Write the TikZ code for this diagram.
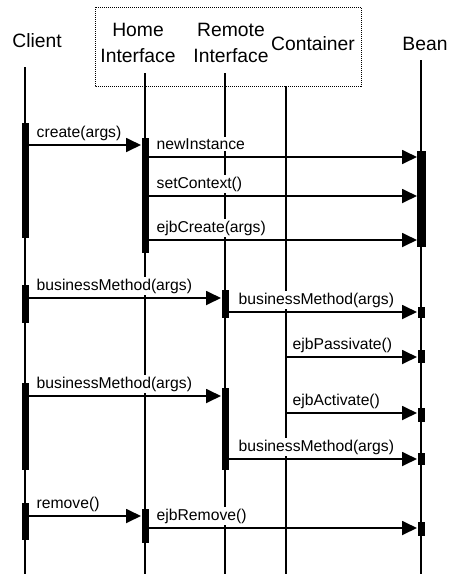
\documentclass[tikz,border=0pt]{standalone}
\usepackage{fontspec}
\setmainfont{Liberation Sans}
\usetikzlibrary{arrows.meta, positioning}

\begin{document}
\begin{tikzpicture}[x=1pt, y=-1pt, >={Triangle[length=15pt,width=14pt]},
    lifeline/.style={line width=2pt},
    msg/.style={->, line width=1.8pt},
    head/.style={font=\fontsize{19.3}{26}\selectfont, align=center, inner sep=0pt},
    lbl/.style={font=\fontsize{15.7}{18}\selectfont, fill=white, inner sep=1.5pt,
                anchor=base west, xshift=10pt, yshift=8pt}]
    \useasboundingbox (0,0) rectangle (448,574);

    % participants
    \node[head, anchor=base] (client) at (37,47) {Client};
    \node[head] (home) at (138,43) {Home\\Interface};
    \node[head] (remote) at (231,43) {Remote\\Interface};
    \node[head, anchor=base] (container) at (313,50) {Container};
    \node[head, anchor=base] (bean) at (425,50) {Bean};
    \draw[dash pattern=on 1pt off 1pt, line width=0.9pt] (95,7) rectangle (361,86);

    % lifelines
    \coordinate (client top) at (25,67);    \coordinate (client end) at (25,574);
    \coordinate (home top) at (145,73);     \coordinate (home end) at (145,574);
    \coordinate (remote top) at (225,73);   \coordinate (remote end) at (225,574);
    \coordinate (container top) at (286,86);\coordinate (container end) at (286,574);
    \coordinate (bean top) at (421,60);     \coordinate (bean end) at (421,574);
    \draw[lifeline] (client top) -- (client end);
    \draw[lifeline] (home top) -- (home end);
    \draw[lifeline] (remote top) -- (remote end);
    \draw[lifeline] (container top) -- (container end);
    \draw[lifeline] (bean top) -- (bean end);

    % message ends
    \coordinate (create from) at (25,145);   \coordinate (create to) at (141,145);
    \coordinate (newinst from) at (145,157); \coordinate (newinst to) at (417,157);
    \coordinate (setctx from) at (145,196);  \coordinate (setctx to) at (417,196);
    \coordinate (ejbcr from) at (145,240);   \coordinate (ejbcr to) at (417,240);
    \coordinate (bm1 from) at (25,298);      \coordinate (bm1 to) at (221,298);
    \coordinate (bm2 from) at (225,312);     \coordinate (bm2 to) at (417,312);
    \coordinate (pass from) at (286,357);    \coordinate (pass to) at (417,357);
    \coordinate (bm3 from) at (25,396);      \coordinate (bm3 to) at (221,396);
    \coordinate (act from) at (286,413);     \coordinate (act to) at (417,413);
    \coordinate (bm4 from) at (225,459);     \coordinate (bm4 to) at (417,459);
    \coordinate (rem from) at (25,516);      \coordinate (rem to) at (141,516);
    \coordinate (ejbrem from) at (145,528);  \coordinate (ejbrem to) at (417,528);

    % labels
    \node[lbl] (create) at (create from) {create(args)};
    \node[lbl] (newinst) at (newinst from) {newInstance};
    \node[lbl] (setctx) at (setctx from) {setContext()};
    \node[lbl] (ejbcr) at (ejbcr from) {ejbCreate(args)};
    \node[lbl] (bm1) at (bm1 from) {businessMethod(args)};
    \node[lbl, xshift=2pt] (bm2) at (bm2 from) {businessMethod(args)};
    \node[lbl, xshift=-5pt] (pass) at (pass from) {ejbPassivate()};
    \node[lbl] (bm3) at (bm3 from) {businessMethod(args)};
    \node[lbl, xshift=-5pt] (act) at (act from) {ejbActivate()};
    \node[lbl, xshift=2pt] (bm4) at (bm4 from) {businessMethod(args)};
    \node[lbl] (rem) at (rem from) {remove()};
    \node[lbl] (ejbrem) at (ejbrem from) {ejbRemove()};

    % messages
    \draw[msg] (create from) -- (create to);
    \draw[msg] (newinst from) -- (newinst to);
    \draw[msg] (setctx from) -- (setctx to);
    \draw[msg] (ejbcr from) -- (ejbcr to);
    \draw[msg] (bm1 from) -- (bm1 to);
    \draw[msg] (bm2 from) -- (bm2 to);
    \draw[msg] (pass from) -- (pass to);
    \draw[msg] (bm3 from) -- (bm3 to);
    \draw[msg] (act from) -- (act to);
    \draw[msg] (bm4 from) -- (bm4 to);
    \draw[msg] (rem from) -- (rem to);
    \draw[msg] (ejbrem from) -- (ejbrem to);

    % activation bars
    \fill (21.5,123) rectangle (28.5,238);
    \fill (21.5,285) rectangle (28.5,323);
    \fill (21.5,383) rectangle (28.5,470);
    \fill (21.5,503) rectangle (28.5,540);
    \fill (141.5,138) rectangle (148.5,253);
    \fill (141.5,509) rectangle (148.5,543);
    \fill (221.5,290) rectangle (228.5,318);
    \fill (221.5,388) rectangle (228.5,470);
    \fill (416.5,151) rectangle (425.5,247);
    \fill (417.5,307) rectangle (424.5,318);
    \fill (417.5,350) rectangle (424.5,363);
    \fill (417.5,408) rectangle (424.5,422);
    \fill (417.5,453) rectangle (424.5,465);
    \fill (417.5,522) rectangle (424.5,536);
\end{tikzpicture}
\end{document}
